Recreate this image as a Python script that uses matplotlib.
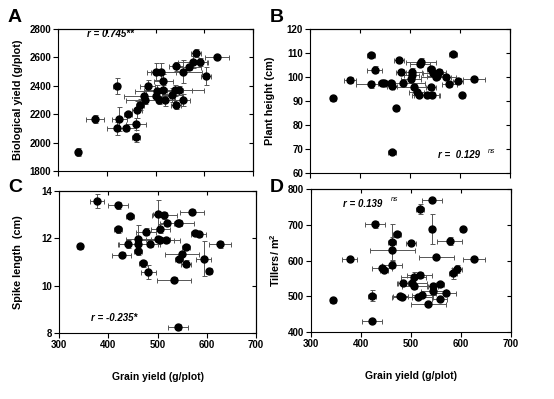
import numpy as np
import matplotlib
matplotlib.use("Agg")
import matplotlib.pyplot as plt

plt.rcParams['font.family'] = ['Liberation Sans', 'DejaVu Sans']
plt.rcParams['font.weight'] = 'bold'
plt.rcParams['axes.labelweight'] = 'bold'

# --- panel A: biological yield vs grain yield
a_x = [341, 376, 420, 420, 426, 440, 444, 460, 460, 462, 469, 476, 479, 484, 500, 500, 503, 507,
       512, 516, 516, 520, 534, 542, 540, 542, 549, 556, 556, 569, 576, 583, 592, 603, 626]
a_y = [1933, 2167, 2400, 2102, 2167, 2100, 2200, 2036, 2131, 2233, 2267, 2326, 2300, 2400, 2500, 2329, 2364, 2300,
       2500, 2436, 2367, 2300, 2333, 2536, 2367, 2267, 2367, 2500, 2300, 2533, 2567, 2631, 2567, 2469, 2600]
a_xerr = [7, 18, 8, 20, 15, 20, 8, 8, 20, 10, 8, 40, 40, 15, 10, 30, 45, 30,
          30, 20, 40, 20, 20, 15, 60, 10, 25, 40, 15, 25, 30, 10, 15, 10, 25]
a_yerr = [30, 30, 55, 45, 85, 20, 10, 30, 40, 60, 40, 40, 30, 40, 60, 30, 40, 30,
          60, 50, 40, 40, 50, 30, 40, 30, 30, 80, 40, 20, 40, 30, 30, 60, 10]

# --- panel B: plant height
b_x = [346, 379, 422, 429, 422, 443, 447, 461, 464, 472, 463, 477, 482, 485, 503, 503, 502, 508,
       513, 518, 521, 519, 533, 542, 541, 544, 546, 553, 557, 551, 571, 578, 585, 595, 604, 627]
b_y = [91.4, 98.6, 109.2, 103.1, 96.9, 97.3, 97.6, 97.6, 96.1, 87.2, 68.9, 107.1, 102.1, 97.6, 102.1, 100.7, 99.2, 96.0,
       93.6, 92.6, 106.3, 105.4, 92.7, 103.5, 95.8, 92.7, 101.8, 100.4, 102.2, 99.9, 100.0, 97.2, 109.5, 98.5, 92.5, 99.0]
b_xerr = [6, 12, 8, 15, 30, 8, 8, 8, 10, 5, 8, 10, 10, 45, 20, 15, 20, 40,
          15, 15, 30, 20, 25, 8, 10, 15, 20, 20, 15, 30, 20, 15, 8, 10, 5, 22]
b_yerr = [0.8, 1.2, 1.2, 1.5, 1.5, 1.0, 1.0, 1.2, 1.0, 0.8, 0.8, 1.0, 1.2, 1.2, 1.5, 1.2, 1.5, 1.0,
          1.0, 1.0, 1.5, 1.2, 1.0, 1.2, 1.0, 1.0, 1.2, 1.2, 1.0, 1.0, 1.0, 1.2, 1.0, 1.0, 0.8, 1.0]

# --- panel C: spike length
c_x = [343, 377, 420, 420, 427, 444, 440, 461, 461, 461, 471, 476, 481, 485, 501, 501, 505, 506,
       514, 518, 520, 533, 541, 544, 541, 543, 550, 557, 557, 570, 577, 584, 594, 604, 627]
c_y = [11.69, 13.58, 13.39, 12.38, 11.31, 12.94, 11.76, 11.97, 11.75, 11.46, 10.94, 12.27, 10.58, 11.75, 13.03, 11.97, 11.94, 12.41,
       12.97, 11.92, 12.63, 10.26, 12.65, 12.65, 8.25, 11.14, 11.35, 11.65, 10.92, 13.13, 12.23, 12.17, 11.14, 10.63, 11.75]
c_xerr = [6, 15, 20, 8, 20, 8, 20, 25, 40, 8, 8, 20, 15, 20, 10, 25, 40, 20,
          25, 15, 15, 35, 8, 30, 20, 8, 35, 8, 10, 25, 10, 15, 15, 6, 22]
c_yerr = [0.08, 0.3, 0.15, 0.15, 0.1, 0.1, 0.15, 0.6, 0.3, 0.15, 0.15, 0.15, 0.3, 0.1, 0.6, 0.1, 0.1, 0.2,
          0.15, 0.1, 0.1, 0.12, 0.12, 0.12, 0.12, 0.1, 0.1, 0.1, 0.15, 0.1, 0.1, 0.1, 0.75, 0.1, 0.15]

# --- panel D: tillers
d_x = [343, 377, 421, 421, 428, 442, 445, 461, 462, 461, 471, 478, 481, 484, 500, 501, 505, 506,
       514, 517, 517, 521, 534, 541, 541, 543, 544, 550, 557, 557, 570, 577, 583, 592, 603, 626]
d_y = [490, 605, 502, 431, 701, 578, 574, 652, 630, 588, 675, 501, 497, 536, 649, 538, 553, 528,
       497, 560, 744, 504, 478, 770, 688, 530, 514, 610, 533, 493, 509, 654, 564, 576, 689, 605]
d_xerr = [6, 15, 8, 20, 20, 20, 8, 8, 45, 20, 8, 15, 20, 10, 10, 30, 25, 25,
          30, 25, 8, 20, 35, 20, 5, 10, 25, 35, 8, 15, 20, 25, 8, 10, 5, 22]
d_yerr = [5, 5, 15, 5, 10, 5, 5, 50, 35, 10, 8, 5, 5, 5, 5, 10, 15, 8,
          5, 8, 15, 5, 5, 5, 42, 8, 10, 5, 8, 5, 5, 12, 15, 12, 5, 5]

x_ticks = [300, 400, 500, 600, 700]

fig = plt.figure(figsize=(5.54, 3.99), dpi=100)

axA = fig.add_axes([0.1047, 0.5714, 0.352, 0.3559])
axB = fig.add_axes([0.5596, 0.5664, 0.361, 0.361])
axC = fig.add_axes([0.1065, 0.1654, 0.3556, 0.3559])
axD = fig.add_axes([0.5614, 0.1679, 0.361, 0.3584])


def panel(ax, x, y, xerr, yerr, ylim, yticks, ylabel, labx, show_x):
    ax.errorbar(x, y, xerr=xerr, yerr=yerr, fmt='o', color='black', ms=5.0,
                ecolor='#555555', elinewidth=0.7, capsize=1.8, capthick=0.7, zorder=3)
    ax.set_xlim(300, 700)
    ax.set_ylim(*ylim)
    ax.set_xticks(x_ticks)
    ax.set_yticks(yticks)
    ax.tick_params(direction='out', length=3.5, width=0.8, labelsize=7, pad=1.5)
    for lab in ax.get_xticklabels() + ax.get_yticklabels():
        lab.set_fontweight('bold')
    if not show_x:
        ax.tick_params(labelbottom=False)
    for s in ax.spines.values():
        s.set_linewidth(0.8)
    # mirrored ticks pointing inwards on top and right
    top = ax.secondary_xaxis('top')
    top.set_xticks(x_ticks)
    top.tick_params(direction='in', length=3, width=0.8, labeltop=False)
    right = ax.secondary_yaxis('right')
    right.set_yticks(yticks)
    right.tick_params(direction='in', length=3, width=0.8, labelright=False)
    ax.set_ylabel(ylabel, fontsize=7.8, fontweight='bold')
    ax.yaxis.set_label_coords(labx, 0.5)
    if show_x:
        ax.set_xlabel('Grain yield (g/plot)', fontsize=7.5, fontweight='bold')
        ax.xaxis.set_label_coords(0.5, -0.275)


panel(axA, a_x, a_y, a_xerr, a_yerr, (1800, 2800), [1800, 2000, 2200, 2400, 2600, 2800],
      'Biological yield (g/plot)', -0.18, False)
panel(axB, b_x, b_y, b_xerr, b_yerr, (60, 120), [60, 70, 80, 90, 100, 110, 120],
      'Plant height (cm)', -0.175, False)
panel(axC, c_x, c_y, c_xerr, c_yerr, (8, 14), [8, 10, 12, 14],
      'Spike length  (cm)', -0.183, True)
panel(axD, d_x, d_y, d_xerr, d_yerr, (400, 800), [400, 500, 600, 700, 800],
      'Tillers/ m$^\\mathregular{2}$', -0.145, True)

# correlation labels
axA.text(0.149, 0.965, 'r = 0.745**', transform=axA.transAxes, fontsize=7,
         style='italic', fontweight='bold', va='center')
axB.text(0.64, 0.125, 'r =  0.129', transform=axB.transAxes, fontsize=7,
         style='italic', fontweight='bold', va='center')
axB.text(0.89, 0.15, 'ns', transform=axB.transAxes, fontsize=5,
         style='italic', fontweight='normal', va='center')
axC.text(0.16, 0.106, 'r = -0.235*', transform=axC.transAxes, fontsize=7,
         style='italic', fontweight='bold', va='center')
axD.text(0.158, 0.895, 'r = 0.139', transform=axD.transAxes, fontsize=7,
         style='italic', fontweight='bold', va='center')
axD.text(0.40, 0.925, 'ns', transform=axD.transAxes, fontsize=5,
         style='italic', fontweight='normal', va='center')

# panel letters
fig.text(0.014, 0.955, 'A', fontsize=14, fontweight='bold', va='center')
fig.text(0.487, 0.955, 'B', fontsize=14, fontweight='bold', va='center')
fig.text(0.014, 0.53, 'C', fontsize=14, fontweight='bold', va='center')
fig.text(0.487, 0.53, 'D', fontsize=14, fontweight='bold', va='center')

fig.savefig('out.png', dpi=100)
